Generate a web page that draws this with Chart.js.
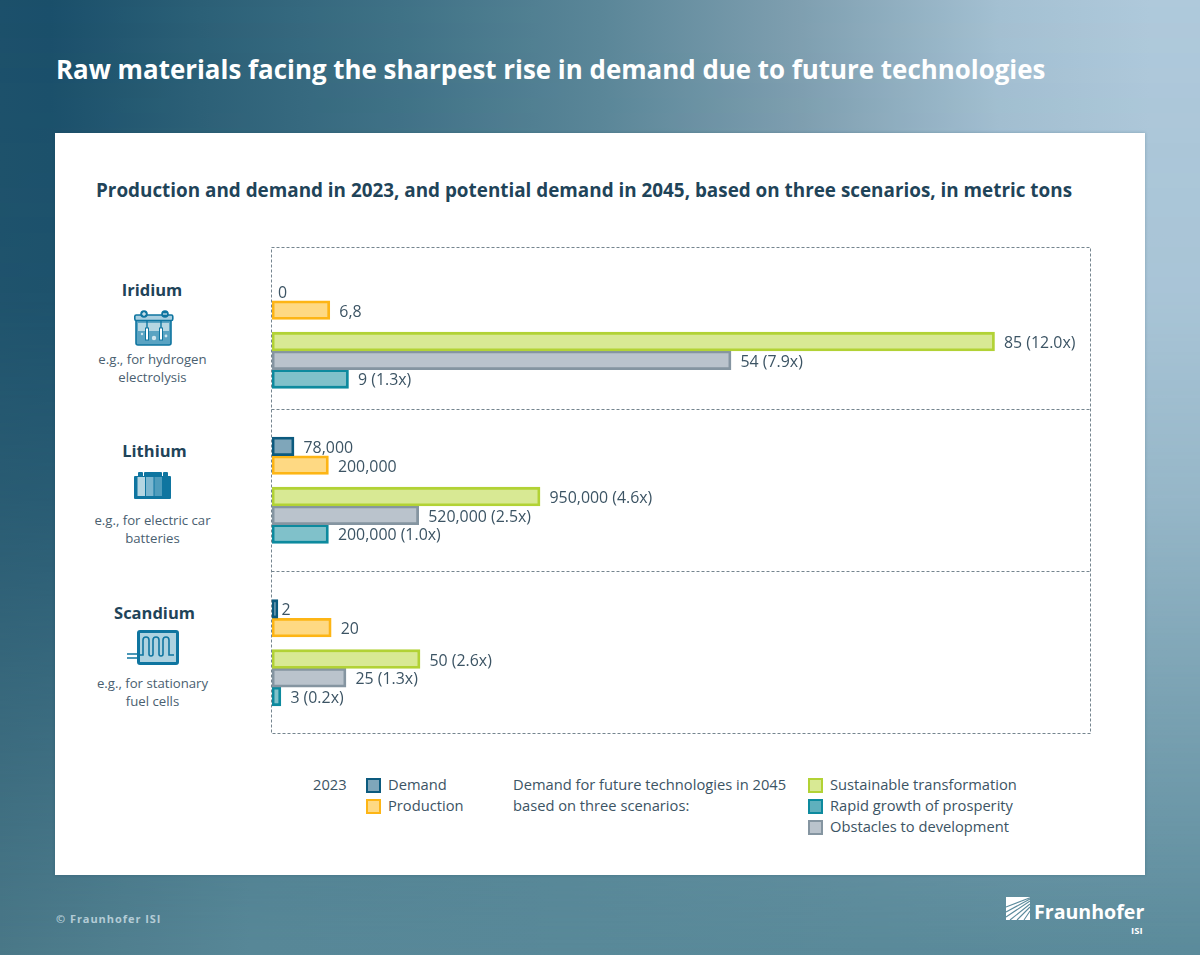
<!DOCTYPE html>
<html>
<head>
<meta charset="utf-8">
<script src="https://cdn.jsdelivr.net/npm/chart.js@4"></script>
<style>
html,body{margin:0;padding:0;width:1200px;height:955px;overflow:hidden;font-family:"Open Sans",sans-serif;color:#3c5464}
#bg,#bgTop{position:absolute;left:0;top:0;width:1200px;height:955px}
#bg{background:linear-gradient(90deg,#4a7888 0px,#588898 250px,#5b8b9b 1200px)}
#bgTop{background:linear-gradient(90deg,#1c506a 0px,#1a4f6a 50px,#2b5f76 200px,#3f7186 400px,#5a8698 600px,#7f9fb0 800px,#a4c0d2 1000px,#afc9db 1150px,#afc9db 1200px);
 -webkit-mask-image:linear-gradient(180deg,rgba(0,0,0,1) 0px,rgba(0,0,0,.92) 300px,rgba(0,0,0,.7) 500px,rgba(0,0,0,.38) 700px,rgba(0,0,0,.08) 900px,rgba(0,0,0,0) 955px);
 mask-image:linear-gradient(180deg,rgba(0,0,0,1) 0px,rgba(0,0,0,.92) 300px,rgba(0,0,0,.7) 500px,rgba(0,0,0,.38) 700px,rgba(0,0,0,.08) 900px,rgba(0,0,0,0) 955px)}
#title{position:absolute;left:56px;top:50.5px;font-size:25.9px;font-weight:700;color:#fff;white-space:nowrap;line-height:37px}
#card{position:absolute;left:55px;top:133px;width:1090px;height:742px;background:#fff;box-shadow:0 0 3px rgba(20,60,80,.25)}
#sub{position:absolute;left:96px;top:178px;font-size:18.86px;font-weight:700;color:#1f4459;white-space:nowrap;line-height:25px}
.panel{position:absolute;left:271px;width:820px;height:162px}
.panel canvas{position:absolute;left:0;top:0}
.h{position:absolute;width:160px;text-align:center;font-size:16.5px;font-weight:700;color:#1f4459;line-height:22px}
.n{position:absolute;width:180px;left:62.5px;text-align:center;font-size:13.2px;line-height:17.5px;color:#4a6070}
.t{position:absolute;font-size:14.7px;line-height:21px;white-space:nowrap;color:#3c5464}
.sw{position:absolute;width:11px;height:11px;border:2.5px solid}
svg{position:absolute;overflow:visible}
#copy{position:absolute;left:56px;top:911px;font-size:11px;font-weight:700;letter-spacing:.95px;color:#b4ccd6;white-space:nowrap}
#fr{position:absolute;left:1034px;top:899px;font-size:19.6px;font-weight:700;color:#fff;white-space:nowrap;line-height:26px}
#isi{position:absolute;left:1131px;top:925px;font-size:9.5px;font-weight:700;color:#fff;white-space:nowrap;line-height:12px}
</style>
</head>
<body>
<div id="bg"></div>
<div id="bgTop"></div>
<div id="title">Raw materials facing the sharpest rise in demand due to future technologies</div>
<div id="card"></div>
<div id="sub">Production and demand in 2023, and potential demand in 2045, based on three scenarios, in metric tons</div>

<svg style="left:0;top:0" width="1200" height="955">
 <g fill="none" stroke="#75858f" stroke-width="1" stroke-dasharray="3 2">
  <rect x="271.5" y="247.5" width="819" height="486"/>
  <path d="M271.5 409.5H1090.5M271.5 571.5H1090.5"/>
 </g>
</svg>

<div class="panel" style="top:248px"><canvas id="cIridium"></canvas></div>
<div class="panel" style="top:403px"><canvas id="cLithium"></canvas></div>
<div class="panel" style="top:565px"><canvas id="cScandium"></canvas></div>

<div class="h" style="left:72px;top:279px">Iridium</div>
<svg style="left:134px;top:309px" width="40" height="37" viewBox="0 0 40 37">
 <rect x="2" y="9" width="35" height="27" rx="2" fill="#5aa3c2" stroke="#0f75a0" stroke-width="1.6"/>
 <rect x="4" y="14" width="31" height="8" fill="#b5d6e2"/>
 <rect x="0.8" y="6" width="38" height="5.5" rx="1.4" fill="#a9cfe0" stroke="#0f75a0" stroke-width="1.6"/>
 <circle cx="10" cy="5" r="3.8" fill="#0f75a0"/><circle cx="31" cy="5" r="3.8" fill="#0f75a0"/>
 <path d="M8 5h4M10 3v4M29 5h4" stroke="#fff" stroke-width="1"/>
 <path d="M13 11v8M27 11v8" stroke="#0f75a0" stroke-width="1.4"/>
 <rect x="11.5" y="19" width="3" height="12" fill="#fff" stroke="#0f75a0"/><rect x="25.5" y="19" width="3" height="12" fill="#fff" stroke="#0f75a0"/>
 <circle cx="20" cy="29" r="2.2" fill="#cfe5ee"/><circle cx="8" cy="25" r="1.2" fill="#cfe5ee"/><circle cx="32" cy="27" r="1.4" fill="#cfe5ee"/>
</svg>
<div class="n" style="top:351px">e.g., for hydrogen<br>electrolysis</div>

<div class="h" style="left:74.5px;top:440px">Lithium</div>
<svg style="left:134px;top:471px" width="40" height="29" viewBox="0 0 40 29">
 <path d="M0 6q0-1 1-1h3V2q0-1 1-1h3q1 0 1 1v3h1V2q0-1 1-1h16q1 0 1 1v3h1V2q0-1 1-1h3q1 0 1 1v3h2q1 0 1 1v21q0 1-1 1H1q-1 0-1-1z" fill="#0f75a0"/>
 <rect x="3.5" y="6" width="7.5" height="19" fill="#b5d6e2"/><rect x="12" y="6" width="7.5" height="19" fill="#7cb6cf"/><rect x="20.5" y="6" width="7.5" height="19" fill="#4f9cbc"/>
</svg>
<div class="n" style="top:512px">e.g., for electric car<br>batteries</div>

<div class="h" style="left:74.5px;top:602px">Scandium</div>
<svg style="left:127px;top:630px" width="52" height="36" viewBox="0 0 52 36">
 <rect x="11.5" y="1.5" width="39" height="32" rx="1.5" fill="#aed2e0" stroke="#0f75a0" stroke-width="3"/>
 <path d="M0 24h11M0 28h11" stroke="#0f75a0" stroke-width="1.4"/>
 <path d="M11 25h5V10q0-3 3-3t3 3v14q0 2 2 2t2-2V10q0-3 3-3t3 3v14q0 2 2 2t2-2V10q0-3 3-3t3 3v15h5" fill="none" stroke="#0f75a0" stroke-width="1.6"/>
</svg>
<div class="n" style="top:675px">e.g., for stationary<br>fuel cells</div>

<div class="t" style="left:313px;top:774px">2023</div>
<div class="sw" style="left:366px;top:777.5px;background:#7fa6ba;border-color:#0c5a7e"></div><div class="t" style="left:388px;top:774px">Demand</div>
<div class="sw" style="left:366px;top:798.5px;background:#fed983;border-color:#fdb515"></div><div class="t" style="left:388px;top:795px">Production</div>
<div class="t" style="left:513px;top:774px">Demand for future technologies in 2045<br>based on three scenarios:</div>
<div class="sw" style="left:808px;top:777.5px;background:#d8e994;border-color:#b2d235"></div><div class="t" style="left:830px;top:774px">Sustainable transformation</div>
<div class="sw" style="left:808px;top:798.5px;background:#5fb0bd;border-color:#0d8a9e"></div><div class="t" style="left:830px;top:795px">Rapid growth of prosperity</div>
<div class="sw" style="left:808px;top:819.5px;background:#bac3cc;border-color:#8595a1"></div><div class="t" style="left:830px;top:816px">Obstacles to development</div>

<div id="copy">© Fraunhofer ISI</div>
<svg style="left:1006px;top:897px" width="24" height="23" viewBox="0 0 24 23">
 <rect width="24" height="23" fill="#fff"/>
 <path d="M0 20L24 4M0 15L24 2M0 10L24 .8M4 23L24 7M11 23L24 10M18 23L24 14" stroke="#5c8c9d" stroke-width="1.1" fill="none"/>
</svg>
<div id="fr">Fraunhofer</div>
<div id="isi">ISI</div>

<script>
const periods = ['2023', '2045'];
const seriesNames = ['Demand', 'Production', 'Sustainable transformation', 'Obstacles to development', 'Rapid growth of prosperity'];
const seriesPeriod = [0, 0, 1, 1, 1];
const seriesFill = ['#7fa6ba', '#fed983', '#d8e994', '#bac3cc', '#80c1ca'];
const seriesBorder = ['#0c5a7e', '#fdb515', '#b2d235', '#8595a1', '#0d8a9e'];

const iridiumValues = [0, 6.8, 85, 54, 9];
const iridiumLabels = ['0', '6,8', '85 (12.0x)', '54 (7.9x)', '9 (1.3x)'];
const iridiumAxisMax = 96.35;

const lithiumValues = [78000, 200000, 950000, 520000, 200000];
const lithiumLabels = ['78,000', '200,000', '950,000 (4.6x)', '520,000 (2.5x)', '200,000 (1.0x)'];
const lithiumAxisMax = 2903000;

const scandiumValues = [2, 20, 50, 25, 3];
const scandiumLabels = ['2', '20', '50 (2.6x)', '25 (1.3x)', '3 (0.2x)'];
const scandiumAxisMax = 276.7;

const barLabels = {
  id: 'barLabels',
  afterDatasetsDraw(chart, args, opts) {
    const ctx = chart.ctx;
    ctx.save();
    ctx.font = '15.9px "Open Sans", sans-serif';
    ctx.fillStyle = '#3c5464';
    ctx.textAlign = 'left';
    ctx.textBaseline = 'middle';
    chart.data.datasets.forEach((ds, i) => {
      const el = chart.getDatasetMeta(i).data[seriesPeriod[i]];
      const len = el.x - chart.chartArea.left;
      const gap = len < 1 ? 6 : (len < 6.5 ? 3.5 : 9.5);
      ctx.fillText(opts.labels[i], el.x + gap, el.y + 2);
    });
    ctx.restore();
  }
};

function drawPanel(id, values, labels, axisMax, padTop, padBottom) {
  new Chart(document.getElementById(id), {
    type: 'bar',
    plugins: [barLabels],
    data: {
      labels: periods,
      datasets: seriesNames.map((name, i) => ({
        label: name,
        data: periods.map((p, k) => (k === seriesPeriod[i] ? values[i] : null)),
        backgroundColor: seriesFill[i],
        borderColor: seriesBorder[i],
        borderWidth: 2.8,
        borderSkipped: false,
        barThickness: 18.7,
        skipNull: true
      }))
    },
    options: {
      indexAxis: 'y',
      responsive: true,
      maintainAspectRatio: false,
      animation: false,
      layout: { padding: { left: 1, right: 0, top: padTop, bottom: padBottom } },
      scales: {
        x: { display: false, min: 0, max: axisMax },
        y: { display: false }
      },
      plugins: {
        legend: { display: false },
        tooltip: { enabled: false },
        barLabels: { labels: labels }
      }
    }
  });
}
drawPanel('cIridium', iridiumValues, iridiumLabels, iridiumAxisMax, 23, 20);
drawPanel('cLithium', lithiumValues, lithiumLabels, lithiumAxisMax, 23, 20);
drawPanel('cScandium', scandiumValues, scandiumLabels, scandiumAxisMax, 23.5, 19.5);
</script>
</body>
</html>
